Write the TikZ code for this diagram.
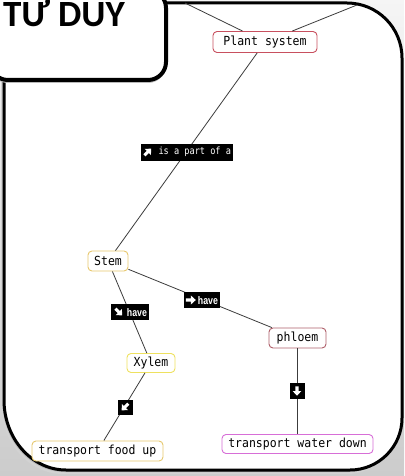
\documentclass[tikz,border=0pt]{standalone}
\usepackage{fontspec}
\usetikzlibrary{calc}
\newfontfamily\mmono{DejaVu Sans Mono}[FakeStretch=0.92]
\newfontfamily\lmono{DejaVu Sans Mono}[FakeStretch=0.86]
\newfontfamily\ttlfont{Carlito}
\newfontfamily\lsans{Liberation Sans}[FakeStretch=0.8]
\definecolor{cPlant}{RGB}{200,80,95}
\definecolor{cPhloem}{RGB}{175,95,105}
\definecolor{cStem}{RGB}{232,200,110}
\definecolor{cXylem}{RGB}{238,225,95}
\definecolor{cFood}{RGB}{230,200,110}
\definecolor{cWater}{RGB}{215,110,215}
\definecolor{cLine}{RGB}{60,60,60}
\tikzset{
  mmnode/.style={draw, fill=white, rounded corners=4pt, line width=0.9pt, inner sep=0pt,
    font=\mmono\fontsize{12.5}{14}\selectfont, text=black},
  conn/.style={draw=cLine, line width=0.8pt},
  labbox/.style={fill=black, inner sep=0pt},
  labmono/.style={text=white, inner sep=0pt, font=\lmono\fontsize{10}{12}\selectfont},
  labsans/.style={text=white, inner sep=0pt, font=\lsans\bfseries\fontsize{11}{12}\selectfont},
  fatarr/.pic={\fill[white] (-5,-1.6) -- (0,-1.6) -- (0,-4.6) -- (5,0) -- (0,4.6) -- (0,1.6) -- (-5,1.6) -- cycle;}
}
\begin{document}
\begin{tikzpicture}[x=1pt,y=-1pt]
\useasboundingbox (0,0) rectangle (404,476);
\clip (0,0) rectangle (404,476);
% background
\shade[top color=gray!8, bottom color=gray!40] (0,0) rectangle (404,476);
% frame shadow
\def\framepath{(4,3) -- (347,3) .. controls (377.4,3) and (402,27.6) .. (402,58) -- (402,418) .. controls (402,446.7) and (378.7,470) .. (350,470) -- (66,470) .. controls (31.8,470) and (4,438.6) .. (4,400) -- cycle}
\fill[gray!35, shift={(-3,4)}] \framepath;
\fill[gray!55, shift={(-1.5,2)}] \framepath;
% frame
\draw[line width=3pt, fill=white] \framepath;

% nodes
\node[mmnode, draw=cPlant, minimum width=104, minimum height=21] (plant) at (265,42) {Plant system};
\node[mmnode, draw=cStem, minimum width=40, minimum height=20] (stem) at (108,261) {Stem};
\node[mmnode, draw=cPhloem, minimum width=57, minimum height=20] (phloem) at (297.5,338) {phloem};
\node[mmnode, draw=cXylem, minimum width=48, minimum height=19] (xylem) at (151,363) {Xylem};
\node[mmnode, draw=cFood, minimum width=131, minimum height=20] (food) at (97.5,451) {transport food up};
\node[mmnode, draw=cWater, minimum width=151, minimum height=19] (water) at (297.5,444) {transport water down};

% off-picture ends
\coordinate (offL) at (185,3);
\coordinate (offR) at (357,5);

% connectors
\draw[conn] (plant) -- (offL);
\draw[conn] (plant) -- (offR);
\draw[conn] (plant) -- (stem);
\draw[conn] (stem) -- (phloem);
\draw[conn] (stem) -- (xylem);
\draw[conn] (xylem) -- (food);
\draw[conn] (phloem) -- (water);

% labels
\node[labbox, minimum width=92, minimum height=17] (l1) at (186.5,152) {};
\node[labmono, anchor=east] (t1) at ($(l1.east)+(-1.5,0)$) {is a part of a};
\pic[rotate=45, scale=0.95] at ($(l1.west)+(7.5,0)$) {fatarr};

\node[labbox, minimum width=36, minimum height=16] (l2) at (202,300) {};
\node[labsans, anchor=east] (t2) at ($(l2.east)+(-2,0.5)$) {have};
\pic at ($(l2.west)+(7,0)$) {fatarr};

\node[labbox, minimum width=38, minimum height=16] (l3) at (130,312) {};
\node[labsans, anchor=east] (t3) at ($(l3.east)+(-2,0.5)$) {have};
\pic[rotate=-45, scale=0.95] at ($(l3.west)+(8,0)$) {fatarr};

\node[labbox, minimum width=15, minimum height=15] (l4) at (125,407) {};
\pic[rotate=-135, scale=0.95] at (l4.center) {fatarr};

\node[labbox, minimum width=15, minimum height=16] (l5) at (297,391) {};
\pic[rotate=-90, scale=0.95] at (l5.center) {fatarr};

% title box
\fill[gray!55, rounded corners=18] (-10,-10) rectangle (166,83);
\draw[line width=4pt, fill=white, rounded corners=18] (-10,-10) rectangle (166,80);
\node[anchor=base west, inner sep=0pt, font=\ttlfont\bfseries\fontsize{37}{40}\selectfont] (title) at (3,26.5) {TƯ DUY};
\end{tikzpicture}
\end{document}
